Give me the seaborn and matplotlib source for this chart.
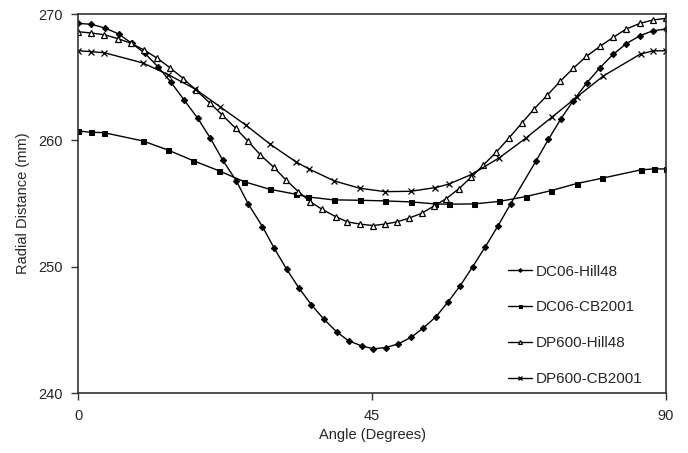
import matplotlib
matplotlib.use("Agg")
import matplotlib.pyplot as plt
import seaborn as sns
import pandas as pd

# ---- data ----
dc06_hill_x = [0, 2.0, 4.1, 6.2, 8.2, 10.2, 12.2, 14.2, 16.2, 18.3, 20.2, 22.1, 24.2, 26.0, 28.2,
               30.0, 31.9, 33.8, 35.7, 37.6, 39.6, 41.4, 43.4, 45.2, 47.1, 49.0, 51.0, 52.8, 54.8,
               56.6, 58.5, 60.4, 62.3, 64.3, 66.2, 70.1, 72.0, 73.9, 75.8, 77.9, 79.9, 81.9, 83.9,
               86.0, 88.0, 90.0]
dc06_hill_y = [269.26, 269.19, 268.89, 268.42, 267.68, 266.89, 265.83, 264.6, 263.2, 261.75,
               260.2, 258.46, 256.8, 255.0, 253.19, 251.48, 249.82, 248.32, 247.0, 245.87,
               244.84, 244.15, 243.75, 243.52, 243.62, 243.91, 244.44, 245.15, 246.07, 247.21,
               248.52, 250.02, 251.56, 253.27, 254.98, 258.38, 260.09, 261.7, 263.15, 264.57,
               265.76, 266.81, 267.65, 268.28, 268.68, 268.81]

dc06_cb_x = [0, 1.9, 3.9, 9.9, 13.7, 17.6, 21.6, 25.4, 29.3, 33.3, 35.2, 39.1, 43.1, 46.9, 50.9,
             54.7, 56.7, 60.6, 64.5, 68.5, 72.4, 76.3, 80.2, 86.1, 88.1, 90]
dc06_cb_y = [260.75, 260.65, 260.62, 259.96, 259.25, 258.40, 257.59, 256.74, 256.14, 255.75,
             255.53, 255.30, 255.27, 255.22, 255.14, 254.98, 254.96, 254.98, 255.18, 255.56,
             256.03, 256.59, 257.01, 257.67, 257.75, 257.75]

dp600_hill_x = [0, 2.0, 4.0, 6.1, 8.1, 10.1, 12.1, 14.1, 16.1, 18.0, 20.1, 22.0, 24.1, 26.0, 27.9,
                29.9, 31.8, 33.7, 35.5, 37.3, 39.4, 41.2, 43.2, 45.1, 46.9, 48.8, 50.6, 52.6, 54.4,
                56.3, 58.3, 60.2, 62.0, 64.0, 66.0, 67.9, 69.8, 71.8, 73.8, 75.8, 77.8, 79.9, 81.9,
                83.9, 86.0, 88.0, 90]
dp600_hill_y = [268.6, 268.5, 268.36, 268.05, 267.68, 267.15, 266.5, 265.73, 264.89, 263.99,
                262.99, 262.04, 260.96, 259.94, 258.85, 257.9, 256.88, 255.95, 255.16, 254.56,
                253.98, 253.56, 253.38, 253.27, 253.38, 253.56, 253.85, 254.24, 254.8, 255.38,
                256.19, 257.11, 258.04, 259.07, 260.22, 261.36, 262.49, 263.57, 264.68, 265.71,
                266.65, 267.45, 268.15, 268.81, 269.26, 269.53, 269.66]

dp600_cb_x = [0, 2.0, 4.0, 9.9, 13.8, 17.9, 21.7, 25.7, 29.4, 33.3, 35.3, 39.2, 43.1, 47.0, 50.9,
              54.7, 56.7, 60.3, 64.5, 68.5, 72.5, 76.4, 80.4, 86.1, 88.0, 90]
dp600_cb_y = [267.1, 267.02, 266.94, 266.13, 265.2, 264.07, 262.67, 261.2, 259.7, 258.32,
              257.75, 256.8, 256.22, 255.95, 255.98, 256.27, 256.54, 257.33, 258.64, 260.17,
              261.83, 263.46, 265.1, 266.84, 267.08, 267.1]

labels = ["DC06-Hill48", "DC06-CB2001", "DP600-Hill48", "DP600-CB2001"]
x_ticks = [0, 45, 90]
y_ticks = [240, 250, 260, 270]

# ---- plot ----
sns.set_theme(style="white")
plt.rcParams['font.family'] = ['Liberation Sans', 'DejaVu Sans']

fig = plt.figure(figsize=(6.88, 4.53), dpi=100)
ax = fig.add_axes([0.1138, 0.1318, 0.968 - 0.1138, 0.969 - 0.1318])

series = [
    (dc06_hill_x, dc06_hill_y, dict(marker="D", markersize=3.2, markerfacecolor="black",
                                     markeredgecolor="black")),
    (dc06_cb_x, dc06_cb_y, dict(marker="s", markersize=3.6, markerfacecolor="black",
                                 markeredgecolor="black")),
    (dp600_hill_x, dp600_hill_y, dict(marker="^", markersize=4.6, markerfacecolor="white",
                                       markeredgecolor="black", markeredgewidth=0.9)),
    (dp600_cb_x, dp600_cb_y, dict(marker="x", markersize=3.8, markeredgecolor="black",
                                   markeredgewidth=0.9)),
]
for (xs, ys, kw), lab in zip(series, labels):
    df = pd.DataFrame({"x": xs, "y": ys})
    sns.lineplot(data=df, x="x", y="y", ax=ax, color="black", linewidth=1.0,
                 label=lab, sort=False, **kw)

ax.set_xlim(0, 90)
ax.set_ylim(240, 270)
ax.set_xticks(x_ticks)
ax.set_yticks(y_ticks)
ax.set_xlabel("Angle (Degrees)", fontsize=10.5, labelpad=4)
ax.set_ylabel("Radial Distance (mm)", fontsize=10.5, labelpad=6)
ax.tick_params(axis="both", which="major", direction="out", length=5, width=1,
               color="#333333", labelsize=10.5, left=True, bottom=True, pad=6)
for s in ax.spines.values():
    s.set_visible(True)
    s.set_color("#333333")
    s.set_linewidth(1.2)

leg = ax.legend(loc="upper left", bbox_to_anchor=(0.72, 0.355), frameon=False,
                fontsize=11, labelspacing=1.42, handlelength=1.6, handletextpad=0.25,
                markerscale=0.6, borderaxespad=0)

fig.savefig("out.png", dpi=100)
